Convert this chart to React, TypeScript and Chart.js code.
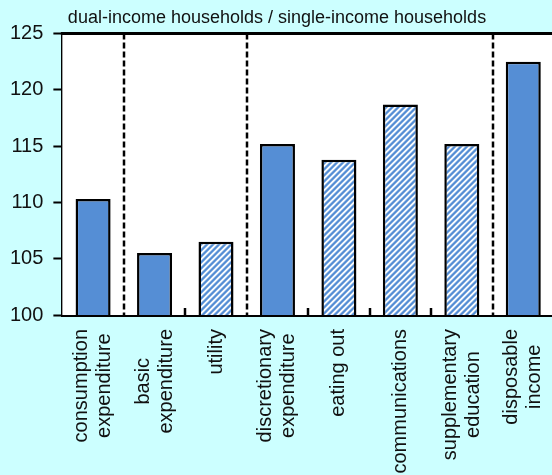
import React, { useEffect, useRef } from "react";
import { Chart, registerables } from "chart.js";

Chart.register(...registerables);

const chartTitle = "dual-income households / single-income households";
const categories: string[][] = [
  ["consumption", "expenditure"],
  ["basic", "expenditure"],
  ["utility"],
  ["discretionary", "expenditure"],
  ["eating out"],
  ["communications"],
  ["supplementary", "education"],
  ["disposable", "income"],
];
const values = [110.3, 105.5, 106.5, 115.2, 113.8, 118.7, 115.2, 122.5];
const hatched = [false, false, true, false, true, true, true, false];
const dividersAfter = [0, 2, 6];
const yMin = 100;
const yMax = 125;
const yStep = 5;

const BLUE = "#558ED5";
const BG = "#CCFFFF";
const FONT = "'Liberation Sans', Arial, sans-serif";
const TEXT = "#111111";

function makeHatch(): CanvasPattern | string {
  const c = document.createElement("canvas");
  c.width = 6;
  c.height = 6;
  const ctx = c.getContext("2d");
  if (!ctx) return BLUE;
  const img = ctx.createImageData(6, 6);
  const cols = [
    [85, 142, 213],
    [85, 142, 213],
    [150, 186, 229],
    [255, 255, 255],
    [240, 246, 252],
    [150, 186, 229],
  ];
  for (let y = 0; y < 6; y++) {
    for (let x = 0; x < 6; x++) {
      const d = (x + y) % 6;
      const k = (y * 6 + x) * 4;
      img.data[k] = cols[d][0];
      img.data[k + 1] = cols[d][1];
      img.data[k + 2] = cols[d][2];
      img.data[k + 3] = 255;
    }
  }
  ctx.putImageData(img, 0, 0);
  return ctx.createPattern(c, "repeat") || BLUE;
}

const decorPlugin = {
  id: "decor",
  beforeDatasetsDraw(chart: any) {
    const { ctx, chartArea: a } = chart;
    ctx.save();
    ctx.fillStyle = "#ffffff";
    ctx.fillRect(a.left, a.top, a.right - a.left, a.bottom - a.top);
    ctx.restore();
  },
  afterDatasetsDraw(chart: any) {
    const { ctx, chartArea: a, scales } = chart;
    const xs = scales.x;
    const n = categories.length;
    const boundary = (i: number) =>
      i === 0
        ? a.left
        : i === n
        ? a.right
        : (xs.getPixelForValue(i - 1) + xs.getPixelForValue(i)) / 2;
    ctx.save();
    ctx.strokeStyle = "#000";
    ctx.lineWidth = 3;
    ctx.beginPath();
    ctx.moveTo(a.left - 1.5, a.top);
    ctx.lineTo(a.right, a.top);
    ctx.stroke();
    ctx.lineWidth = 2.5;
    ctx.setLineDash([6, 3]);
    for (const i of dividersAfter) {
      const bx = Math.round(boundary(i + 1));
      ctx.beginPath();
      ctx.moveTo(bx, a.top);
      ctx.lineTo(bx, a.bottom);
      ctx.stroke();
    }
    ctx.setLineDash([]);
    for (let i = 1; i < n; i++) {
      if (dividersAfter.includes(i - 1)) continue;
      const bx = Math.round(boundary(i));
      ctx.beginPath();
      ctx.moveTo(bx, a.bottom);
      ctx.lineTo(bx, a.bottom - 7);
      ctx.stroke();
    }
    ctx.font = `20px ${FONT}`;
    ctx.fillStyle = TEXT;
    ctx.textAlign = "center";
    ctx.textBaseline = "middle";
    const top = a.bottom + 14;
    const lh = 23;
    categories.forEach((lines, i) => {
      const cx = xs.getPixelForValue(i);
      const w = Math.max(...lines.map((l) => ctx.measureText(l).width));
      ctx.save();
      ctx.translate(cx, top + w / 2);
      ctx.rotate(-Math.PI / 2);
      lines.forEach((l, j) => {
        ctx.fillText(l, 0, (j - (lines.length - 1) / 2) * lh);
      });
      ctx.restore();
    });
    ctx.restore();
  },
};

export default function App() {
  const ref = useRef<HTMLCanvasElement | null>(null);
  useEffect(() => {
    if (!ref.current) return;
    const hatch = makeHatch();
    const chart = new Chart(ref.current, {
      type: "bar",
      data: {
        labels: categories.map((c) => c.join(" ")),
        datasets: [
          {
            data: values,
            backgroundColor: hatched.map((h) => (h ? hatch : BLUE)) as any,
            borderColor: "#000",
            borderWidth: 2.5,
            barPercentage: 0.57,
            categoryPercentage: 1.0,
          },
        ],
      },
      options: {
        animation: false,
        responsive: false,
        devicePixelRatio: 1,
        layout: { padding: { left: 0, right: 8, top: 0, bottom: 0 } },
        plugins: {
          legend: { display: false },
          tooltip: { enabled: false },
          title: {
            display: true,
            text: chartTitle,
            color: TEXT,
            font: { size: 18, family: FONT, weight: "normal" },
            padding: { top: 7, bottom: 5 },
          },
        },
        scales: {
          x: {
            grid: { display: false },
            border: { display: true, color: "#000", width: 3 },
            ticks: { display: false },
            afterFit: (s: any) => {
              s.height = 160;
            },
          },
          y: {
            min: yMin,
            max: yMax,
            border: { display: true, color: "#000", width: 3 },
            grid: {
              drawOnChartArea: false,
              drawTicks: true,
              tickLength: 9,
              tickColor: "#000",
              tickWidth: 2,
            },
            ticks: {
              stepSize: yStep,
              color: TEXT,
              padding: 10,
              font: { size: 20, family: FONT },
            },
          },
        },
      },
      plugins: [decorPlugin],
    });
    return () => chart.destroy();
  }, []);
  return (
    <div
      style={{
        position: "fixed",
        left: 0,
        top: 0,
        width: 552,
        height: 475,
        overflow: "hidden",
        background: BG,
      }}
    >
      <canvas ref={ref} width={562} height={475} style={{ display: "block" }} />
    </div>
  );
}
